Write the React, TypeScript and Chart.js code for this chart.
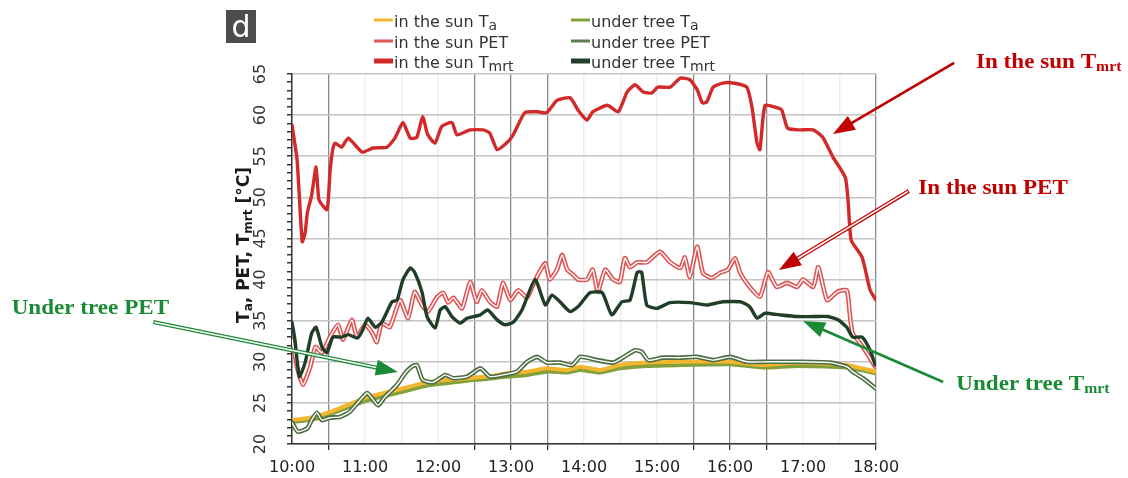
import React, { useEffect, useRef } from "react";
import { Chart, registerables } from "chart.js";
Chart.register(...registerables);

// ---------- DATA (time in decimal hours, values in °C) ----------
const sunTmrtTime = [10.0, 10.07, 10.14, 10.18, 10.21, 10.27, 10.33, 10.37, 10.48, 10.52, 10.55, 10.59, 10.68, 10.77, 10.96, 11.11, 11.3, 11.41, 11.52, 11.62, 11.71, 11.79, 11.86, 11.96, 12.05, 12.19, 12.26, 12.44, 12.62, 12.71, 12.81, 12.95, 13.03, 13.19, 13.36, 13.49, 13.63, 13.81, 13.92, 14.04, 14.12, 14.32, 14.47, 14.59, 14.7, 14.81, 14.93, 15.01, 15.18, 15.32, 15.45, 15.55, 15.62, 15.68, 15.77, 15.9, 16.04, 16.23, 16.3, 16.37, 16.41, 16.48, 16.64, 16.71, 16.79, 16.96, 17.14, 17.27, 17.41, 17.58, 17.62, 17.66, 17.81, 17.92, 18.0];
const sunTmrt = [58.8, 54.5, 44.6, 45.7, 48.1, 50.3, 53.7, 49.7, 48.5, 53.0, 55.4, 56.6, 56.1, 57.2, 55.5, 56.0, 56.1, 57.2, 59.1, 57.2, 57.3, 59.8, 57.6, 56.6, 58.6, 59.1, 57.6, 58.2, 58.2, 57.8, 55.8, 56.7, 57.6, 60.3, 60.4, 60.3, 61.8, 62.1, 60.6, 59.4, 60.4, 61.2, 60.4, 62.8, 63.7, 62.8, 62.7, 63.4, 63.4, 64.5, 64.3, 63.1, 61.5, 61.6, 63.4, 63.9, 63.9, 63.4, 61.0, 56.6, 55.8, 61.2, 60.9, 60.6, 58.4, 58.2, 58.2, 57.3, 54.9, 52.4, 49.3, 44.8, 42.7, 38.7, 37.5];

const sunPetTime = [10.0, 10.08, 10.15, 10.25, 10.32, 10.41, 10.52, 10.63, 10.7, 10.82, 10.89, 11.0, 11.1, 11.16, 11.23, 11.34, 11.48, 11.59, 11.68, 11.78, 11.86, 11.99, 12.07, 12.14, 12.21, 12.33, 12.44, 12.53, 12.6, 12.71, 12.81, 12.89, 12.99, 13.1, 13.22, 13.3, 13.37, 13.47, 13.53, 13.63, 13.7, 13.77, 13.85, 13.92, 14.04, 14.12, 14.19, 14.29, 14.4, 14.49, 14.56, 14.63, 14.73, 14.86, 15.04, 15.18, 15.32, 15.38, 15.45, 15.55, 15.63, 15.75, 15.86, 15.97, 16.07, 16.14, 16.27, 16.41, 16.52, 16.64, 16.78, 16.92, 17.0, 17.14, 17.21, 17.33, 17.47, 17.6, 17.64, 17.68, 17.82, 17.99];
const sunPet = [32.7, 29.0, 27.2, 29.4, 31.8, 31.1, 33.0, 34.5, 32.7, 35.1, 33.0, 34.5, 33.5, 32.4, 34.7, 34.2, 37.5, 35.3, 38.5, 36.9, 36.1, 37.9, 38.4, 37.2, 37.8, 36.5, 39.7, 37.3, 38.7, 37.3, 36.7, 39.6, 37.5, 38.7, 37.8, 39.3, 40.6, 42.0, 40.0, 41.2, 43.0, 41.2, 40.6, 40.0, 40.0, 41.2, 38.5, 41.2, 40.0, 39.7, 42.6, 41.5, 42.1, 42.1, 43.4, 42.1, 41.4, 42.7, 40.3, 44.0, 40.8, 40.2, 40.8, 41.2, 42.6, 40.8, 39.1, 37.9, 40.9, 39.1, 39.6, 39.1, 40.0, 39.1, 41.5, 37.5, 38.5, 38.7, 35.9, 33.5, 31.8, 29.4];

const treeTmrtTime = [10.0, 10.04, 10.1, 10.18, 10.27, 10.33, 10.41, 10.48, 10.56, 10.68, 10.77, 10.9, 10.97, 11.04, 11.14, 11.23, 11.37, 11.44, 11.52, 11.62, 11.68, 11.78, 11.85, 11.96, 12.03, 12.1, 12.19, 12.3, 12.4, 12.58, 12.68, 12.81, 12.92, 13.03, 13.15, 13.33, 13.47, 13.56, 13.67, 13.81, 13.93, 14.08, 14.25, 14.38, 14.52, 14.63, 14.73, 14.79, 14.86, 15.0, 15.18, 15.45, 15.68, 15.9, 16.14, 16.27, 16.37, 16.48, 16.68, 16.92, 17.14, 17.34, 17.48, 17.6, 17.68, 17.81, 17.92, 17.99];
const treeTmrt = [34.8, 32.7, 28.2, 29.9, 33.5, 34.2, 31.8, 31.1, 33.0, 33.0, 33.3, 32.9, 33.9, 35.3, 34.2, 34.8, 37.3, 37.5, 40.0, 41.4, 40.9, 38.5, 35.5, 34.1, 36.3, 36.7, 35.5, 34.7, 35.3, 35.7, 36.3, 35.1, 34.5, 34.8, 36.3, 40.0, 36.9, 38.1, 37.3, 36.1, 36.8, 38.4, 38.4, 35.7, 37.3, 37.5, 40.9, 40.9, 36.9, 36.5, 37.2, 37.2, 36.9, 37.3, 37.3, 36.7, 35.3, 35.9, 35.7, 35.5, 35.5, 35.5, 35.1, 34.2, 33.0, 33.0, 31.4, 29.6];

const taTime = [10.0, 10.25, 10.52, 10.75, 11.03, 11.3, 11.58, 11.85, 12.12, 12.4, 12.67, 12.95, 13.22, 13.49, 13.77, 13.95, 14.22, 14.49, 14.86, 15.32, 16.0, 16.45, 16.92, 17.6, 17.99];
const sunTa = [22.9, 23.2, 23.9, 24.7, 25.7, 26.3, 26.9, 27.5, 27.8, 28.0, 28.2, 28.6, 28.8, 29.2, 29.0, 29.4, 29.0, 29.6, 29.9, 30.0, 30.0, 29.6, 29.9, 29.6, 28.8];
const treeTa = [22.7, 22.9, 23.6, 24.4, 25.3, 25.9, 26.5, 27.1, 27.4, 27.7, 27.9, 28.2, 28.4, 28.8, 28.7, 29.0, 28.7, 29.2, 29.5, 29.6, 29.7, 29.3, 29.5, 29.3, 28.6];

const treePetTime = [10.0, 10.08, 10.21, 10.27, 10.34, 10.41, 10.52, 10.66, 10.79, 10.9, 11.03, 11.11, 11.18, 11.27, 11.34, 11.44, 11.55, 11.64, 11.71, 11.79, 11.93, 12.1, 12.21, 12.4, 12.58, 12.71, 12.89, 13.08, 13.22, 13.36, 13.49, 13.67, 13.84, 13.95, 14.18, 14.4, 14.53, 14.7, 14.79, 14.88, 15.08, 15.32, 15.55, 15.77, 16.0, 16.23, 16.51, 16.92, 17.37, 17.6, 17.68, 17.82, 17.99];
const treePet = [22.6, 21.5, 21.9, 22.9, 23.8, 22.9, 23.2, 23.3, 23.9, 25.0, 26.2, 25.4, 24.7, 25.7, 26.3, 27.2, 28.6, 29.4, 29.6, 27.8, 27.5, 28.4, 28.0, 28.2, 29.2, 28.2, 28.4, 28.8, 30.0, 30.6, 29.9, 29.9, 29.6, 30.6, 30.2, 29.9, 30.5, 31.4, 31.2, 30.2, 30.5, 30.5, 30.6, 30.2, 30.6, 30.0, 30.0, 30.0, 29.9, 29.4, 28.8, 28.0, 26.8];

const hourTicks = [10, 11, 12, 13, 14, 15, 16, 17, 18];
const yTickLabels = [20, 25, 30, 35, 40, 45, 50, 55, 60, 65];
const darkGridTimes = [10.5, 12.5, 13, 13.5, 15.5, 16, 16.5, 18];

// ---------- STYLE ----------
const C_SUN_TA = "#f2b72e";
const C_TREE_TA = "#84a03a";
const C_SUN_PET = "#e05555";
const C_SUN_TMRT = "#d22a2a";
const C_TREE_PET = "#4d6e44";
const C_TREE_TMRT = "#213f28";
const C_ANN_RED = "#c00000";
const C_ANN_GREEN = "#1b8a36";

type Part = { t: string; sub?: boolean };

const legendItems: { parts: Part[]; color: string; width: number; col: number; row: number }[] = [
  { parts: [{ t: "in the sun T" }, { t: "a", sub: true }], color: C_SUN_TA, width: 3, col: 0, row: 0 },
  { parts: [{ t: "in the sun PET" }], color: C_SUN_PET, width: 3, col: 0, row: 1 },
  { parts: [{ t: "in the sun T" }, { t: "mrt", sub: true }], color: C_SUN_TMRT, width: 5, col: 0, row: 2 },
  { parts: [{ t: "under tree T" }, { t: "a", sub: true }], color: C_TREE_TA, width: 3, col: 1, row: 0 },
  { parts: [{ t: "under tree PET" }], color: "#5d7d55", width: 3, col: 1, row: 1 },
  { parts: [{ t: "under tree T" }, { t: "mrt", sub: true }], color: C_TREE_TMRT, width: 5, col: 1, row: 2 },
];

// annotations anchored in data space (hours, °C)
const annLabels: { parts: Part[]; at: [number, number]; color: string }[] = [
  { parts: [{ t: "In the sun T" }, { t: "mrt", sub: true }], at: [19.37, 65.74], color: C_ANN_RED },
  { parts: [{ t: "In the sun PET" }], at: [18.58, 50.41], color: C_ANN_RED },
  { parts: [{ t: "Under tree T" }, { t: "mrt", sub: true }], at: [19.1, 26.57], color: C_ANN_GREEN },
  { parts: [{ t: "Under tree PET" }], at: [6.16, 35.82], color: C_ANN_GREEN },
];
const annArrows: { from: [number, number]; to: [number, number]; color: string; double: boolean }[] = [
  { from: [19.07, 66.35], to: [17.41, 57.71], color: C_ANN_RED, double: false },
  { from: [18.45, 50.78], to: [16.67, 41.17], color: C_ANN_RED, double: true },
  { from: [18.92, 27.54], to: [17.0, 34.96], color: C_ANN_GREEN, double: false },
  { from: [8.1, 34.84], to: [11.45, 28.76], color: C_ANN_GREEN, double: true },
];

const pts = (ts: number[], vs: number[]) => ts.map((t, i) => ({ x: t, y: vs[i] }));

function richWidth(ctx: CanvasRenderingContext2D, parts: Part[], font: (p: Part) => string) {
  let w = 0;
  parts.forEach((p) => {
    ctx.font = font(p);
    w += ctx.measureText(p.t).width;
  });
  return w;
}
function drawRich(ctx: CanvasRenderingContext2D, parts: Part[], x: number, y: number, font: (p: Part) => string, subDy: number, align: "left" | "center") {
  const w = richWidth(ctx, parts, font);
  let cx = align === "center" ? x - w / 2 : x;
  ctx.textAlign = "left";
  ctx.textBaseline = "alphabetic";
  parts.forEach((p) => {
    ctx.font = font(p);
    ctx.fillText(p.t, cx, y + (p.sub ? subDy : 0));
    cx += ctx.measureText(p.t).width;
  });
}

function drawArrow(ctx: CanvasRenderingContext2D, x1: number, y1: number, x2: number, y2: number, color: string, dbl: boolean) {
  const ang = Math.atan2(y2 - y1, x2 - x1);
  const hl = 22, hw = 8;
  const bx = x2 - hl * Math.cos(ang), by = y2 - hl * Math.sin(ang);
  ctx.save();
  ctx.lineCap = "butt";
  ctx.strokeStyle = color;
  ctx.lineWidth = dbl ? 4.2 : 2.6;
  ctx.beginPath();
  ctx.moveTo(x1, y1);
  ctx.lineTo(bx + 2 * Math.cos(ang), by + 2 * Math.sin(ang));
  ctx.stroke();
  if (dbl) {
    ctx.strokeStyle = "#ffffff";
    ctx.lineWidth = 1.6;
    ctx.beginPath();
    ctx.moveTo(x1 + Math.cos(ang), y1 + Math.sin(ang));
    ctx.lineTo(bx, by);
    ctx.stroke();
  }
  ctx.fillStyle = color;
  ctx.beginPath();
  ctx.moveTo(x2, y2);
  ctx.lineTo(bx + hw * Math.sin(ang), by - hw * Math.cos(ang));
  ctx.lineTo(bx - hw * Math.sin(ang), by + hw * Math.cos(ang));
  ctx.closePath();
  ctx.fill();
  ctx.restore();
}

const decorPlugin = {
  id: "decor",
  afterDraw(chart: any) {
    const ctx: CanvasRenderingContext2D = chart.ctx;
    const xs = chart.scales.x, ys = chart.scales.y;
    const area = chart.chartArea;
    ctx.save();

    // panel letter
    ctx.fillStyle = "#4d4d4d";
    ctx.fillRect(226, 10, 30, 33);
    ctx.fillStyle = "#ffffff";
    ctx.font = "30px 'DejaVu Sans'";
    ctx.textAlign = "center";
    ctx.textBaseline = "alphabetic";
    ctx.fillText("d", 241, 37);

    // legend
    const colX = [374, 571];
    const rowY = [20, 41, 61];
    legendItems.forEach((it) => {
      const x = colX[it.col], y = rowY[it.row];
      ctx.strokeStyle = it.color;
      ctx.lineWidth = it.width;
      ctx.lineCap = "butt";
      ctx.beginPath();
      ctx.moveTo(x, y);
      ctx.lineTo(x + 19, y);
      ctx.stroke();
      ctx.fillStyle = "#333333";
      drawRich(ctx, it.parts, x + 20, y + 7, (p) => (p.sub ? "14px 'DejaVu Sans'" : "16px 'DejaVu Sans'"), 3, "left");
    });

    // y tick labels (rotated)
    ctx.fillStyle = "#333333";
    yTickLabels.forEach((v) => {
      const py = ys.getPixelForValue(v);
      ctx.save();
      ctx.translate(area.left - 31, py);
      ctx.rotate(-Math.PI / 2);
      ctx.font = "16px 'DejaVu Sans'";
      ctx.textAlign = "center";
      ctx.textBaseline = "middle";
      ctx.fillText(String(v), 0, 0);
      ctx.restore();
    });

    // y title
    ctx.save();
    ctx.translate(area.left - 43, (area.top + area.bottom) / 2 - 14);
    ctx.rotate(-Math.PI / 2);
    ctx.fillStyle = "#1a1a1a";
    drawRich(
      ctx,
      [{ t: "T" }, { t: "a", sub: true }, { t: ", PET, T" }, { t: "mrt", sub: true }, { t: " [°C]" }],
      0,
      0,
      (p) => (p.sub ? "bold 12px 'DejaVu Sans'" : "bold 17px 'DejaVu Sans'"),
      3,
      "center"
    );
    ctx.restore();

    // annotations
    annArrows.forEach((a) => {
      drawArrow(ctx, xs.getPixelForValue(a.from[0]), ys.getPixelForValue(a.from[1]), xs.getPixelForValue(a.to[0]), ys.getPixelForValue(a.to[1]), a.color, a.double);
    });
    annLabels.forEach((l) => {
      ctx.fillStyle = l.color;
      ctx.save();
      ctx.translate(xs.getPixelForValue(l.at[0]), ys.getPixelForValue(l.at[1]));
      ctx.scale(1.05, 1);
      drawRich(ctx, l.parts, 0, 0, (p) => (p.sub ? "bold 15px 'Liberation Serif'" : "bold 22px 'Liberation Serif'"), 3, "left");
      ctx.restore();
    });

    ctx.restore();
  },
};

const lineDs = (data: any[], color: string, width: number) => ({
  data,
  borderColor: color,
  borderWidth: width,
  pointRadius: 0,
  tension: 0.18,
  fill: false,
  borderJoinStyle: "round" as const,
  borderCapStyle: "round" as const,
});

export default function App() {
  const ref = useRef<HTMLCanvasElement | null>(null);
  useEffect(() => {
    if (!ref.current) return;
    const isDark = (v: number) => darkGridTimes.some((d) => Math.abs(d - v) < 1e-6);
    const chart = new Chart(ref.current, {
      type: "line",
      data: {
        datasets: [
          lineDs(pts(sunTmrtTime, sunTmrt), C_SUN_TMRT, 3.4),
          lineDs(pts(treeTmrtTime, treeTmrt), C_TREE_TMRT, 3.4),
          lineDs(pts(treePetTime, treePet), "#ffffff", 1.4),
          lineDs(pts(treePetTime, treePet), C_TREE_PET, 4.6),
          lineDs(pts(taTime, sunTa), C_SUN_TA, 4),
          lineDs(pts(taTime, treeTa), C_TREE_TA, 4),
          lineDs(pts(sunPetTime, sunPet), "#ffffff", 1.4),
          lineDs(pts(sunPetTime, sunPet), C_SUN_PET, 4.6),
        ],
      },
      options: {
        animation: false,
        responsive: true,
        maintainAspectRatio: false,
        layout: { padding: { left: 252, right: 252, top: 74, bottom: 0 } },
        plugins: { legend: { display: false }, tooltip: { enabled: false } },
        scales: {
          x: {
            type: "linear",
            min: 10,
            max: 18,
            afterFit: (s: any) => {
              s.height = 34;
            },
            afterBuildTicks: (s: any) => {
              const t: any[] = [];
              for (let v = 10; v <= 18.001; v += 0.5) t.push({ value: v });
              s.ticks = t;
            },
            ticks: {
              autoSkip: false,
              maxRotation: 0,
              minRotation: 0,
              padding: 8,
              color: "#222222",
              font: { family: "'DejaVu Sans'", size: 16 },
              callback: (v: any) => (hourTicks.includes(Number(v)) ? `${v}:00` : ""),
            },
            grid: {
              color: (c: any) => (isDark(c.tick?.value) ? "#8a8a8a" : "#efefef"),
              lineWidth: (c: any) => (isDark(c.tick?.value) ? 1.3 : 1.5),
              tickLength: 6,
              tickColor: (c: any) => (isDark(c.tick?.value) ? "#333333" : "rgba(0,0,0,0)"),
            },
            border: { color: "#333333", width: 1.5 },
          },
          y: {
            min: 20,
            max: 65,
            afterFit: (s: any) => {
              s.width = 40;
            },
            ticks: { stepSize: 1, display: false },
            grid: {
              color: (c: any) => (c.tick && c.tick.value % 5 === 0 ? "#c4c4c4" : "rgba(0,0,0,0)"),
              lineWidth: 1.5,
              tickLength: 5,
              tickColor: "#333333",
            },
            border: { color: "#333333", width: 1.5 },
          },
        },
      },
      plugins: [decorPlugin],
    });
    return () => chart.destroy();
  }, []);
  return (
    <div style={{ position: "absolute", left: 0, top: 0, width: 1128, height: 478 }}>
      <canvas ref={ref} />
    </div>
  );
}
